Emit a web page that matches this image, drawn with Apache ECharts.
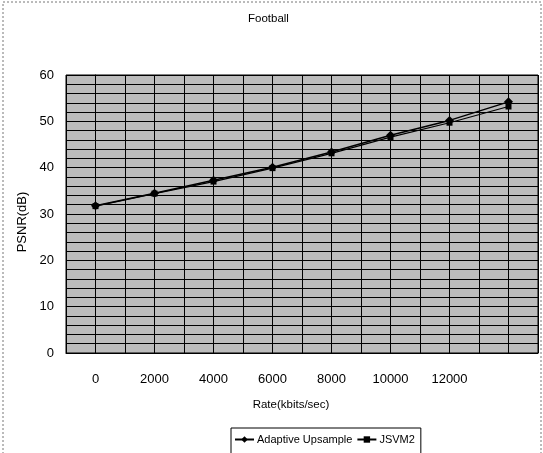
<!DOCTYPE html>
<html><head><meta charset="utf-8">
<script src="https://cdn.jsdelivr.net/npm/echarts@6/dist/echarts.min.js"></script>
<style>html,body{margin:0;padding:0;background:#fff}#c{width:543px;height:453px}</style>
</head><body><div id="c"></div>
<script>
var rates = [0, 2000, 4000, 6000, 8000, 10000, 12000, 14000];
var adaptive = [31.8, 34.5, 37.3, 40.1, 43.4, 47.0, 50.2, 54.2];
var jsvm2 = [31.7, 34.4, 37.0, 39.9, 43.1, 46.6, 49.7, 53.2];
var xTickLabels = [0, 2000, 4000, 6000, 8000, 10000, 12000];
var yTickLabels = [0, 10, 20, 30, 40, 50, 60];

var font = '"Liberation Sans", Arial, sans-serif';
var chart = echarts.init(document.getElementById('c'));
function pairs(ys){ return rates.map(function(r,i){ return [r, ys[i]]; }); }
chart.setOption({
  animation: false,
  backgroundColor: '#fff',
  title: { text: 'Football', left: 243, top: 8, textStyle: { fontFamily: font, fontSize: 11.5, fontWeight: 'normal', color: '#000' } },
  graphic: [{ type: 'rect', shape: { x: 3, y: 2, width: 538, height: 470 }, style: { fill: 'none', stroke: '#777', lineWidth: 1, lineDash: [2, 2] }, z: -1 }],
  grid: { left: 66, right: 5, top: 75, bottom: 100, show: true, backgroundColor: '#bcbcbc', borderColor: '#000', borderWidth: 1 },
  xAxis: {
    type: 'value', min: -1000, max: 15000, interval: 1000,
    name: 'Rate(kbits/sec)', nameLocation: 'middle', nameGap: 46,
    nameTextStyle: { fontFamily: font, fontSize: 11.5, color: '#000', padding: [0, 22, 0, 0] },
    axisLine: { show: true, lineStyle: { color: '#000' } }, axisTick: { show: false },
    axisLabel: { margin: 20, fontFamily: font, fontSize: 13, color: '#000',
      formatter: function(v){ return xTickLabels.indexOf(v) >= 0 ? String(v) : ''; } },
    splitLine: { show: true, lineStyle: { color: '#000', width: 1 } }
  },
  yAxis: {
    type: 'value', min: 0, max: 60, interval: 2,
    name: 'PSNR(dB)', nameLocation: 'middle', nameGap: 31, nameRotate: 90,
    nameTextStyle: { fontFamily: font, fontSize: 13, color: '#000', padding: [0, 16, 0, 0] },
    axisLine: { show: true, lineStyle: { color: '#000' } }, axisTick: { show: false },
    axisLabel: { margin: 12, fontFamily: font, fontSize: 13, color: '#000',
      formatter: function(v){ return yTickLabels.indexOf(v) >= 0 ? String(v) : ''; } },
    splitLine: { show: true, lineStyle: { color: '#000', width: 1 } }
  },
  legend: {
    left: 231, top: 428, orient: 'horizontal', itemGap: 4, itemWidth: 19, itemHeight: 8,
    backgroundColor: '#fff', borderColor: '#000', borderWidth: 1, padding: [6, 6, 12, 3],
    textStyle: { fontFamily: font, fontSize: 11, color: '#000', padding: [0, 0, 0, -2] },
    data: ['Adaptive Upsample', 'JSVM2']
  },
  series: [
    { name: 'Adaptive Upsample', type: 'line', data: pairs(adaptive), symbol: 'diamond', symbolSize: 9,
      itemStyle: { color: '#000' }, lineStyle: { color: '#000', width: 1.5 } },
    { name: 'JSVM2', type: 'line', data: pairs(jsvm2), symbol: 'rect', symbolSize: 6,
      itemStyle: { color: '#000' }, lineStyle: { color: '#000', width: 1.2 } }
  ]
});
</script></body></html>
